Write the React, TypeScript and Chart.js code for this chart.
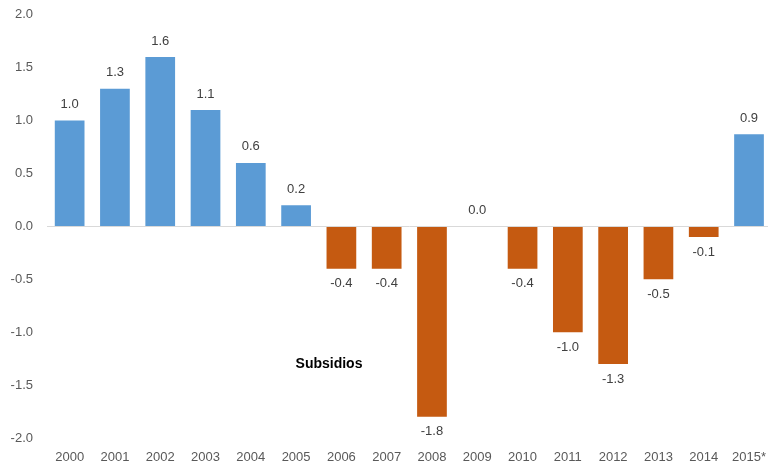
import React, { useEffect, useRef } from "react";
import { Chart, registerables } from "chart.js";

Chart.register(...registerables);

const categories = ["2000","2001","2002","2003","2004","2005","2006","2007","2008","2009","2010","2011","2012","2013","2014","2015*"];
const values = [1.0, 1.3, 1.6, 1.1, 0.6, 0.2, -0.4, -0.4, -1.8, 0.0, -0.4, -1.0, -1.3, -0.5, -0.1, 0.87];
const yTicks = [-2.0, -1.5, -1.0, -0.5, 0.0, 0.5, 1.0, 1.5, 2.0];
const annotationText = "Subsidios";

const BLUE = "#5B9BD5";
const ORANGE = "#C55A11";
const FONT = "'Liberation Sans', Arial, sans-serif";

const labelPlugin = {
  id: "valueLabels",
  afterDatasetsDraw(chart: any) {
    const ctx = chart.ctx;
    const meta = chart.getDatasetMeta(0);
    ctx.save();
    ctx.font = `13px ${FONT}`;
    ctx.fillStyle = "#404040";
    ctx.textAlign = "center";
    ctx.textBaseline = "middle";
    meta.data.forEach((bar: any, i: number) => {
      const v = values[i];
      const txt = v.toFixed(1);
      const y = v >= 0 ? bar.y - 16 : bar.y + 15;
      ctx.fillText(txt, bar.x, y);
    });
    const ca = chart.chartArea;
    ctx.font = `bold 14px ${FONT}`;
    ctx.fillStyle = "#000000";
    const yS = chart.scales.y;
    ctx.fillText(annotationText, ca.left + 282, yS.getPixelForValue(-1.3));
    ctx.restore();
  },
};

export default function App() {
  const ref = useRef<HTMLCanvasElement>(null);
  useEffect(() => {
    if (!ref.current) return;
    const chart = new Chart(ref.current, {
      type: "bar",
      data: {
        labels: categories,
        datasets: [
          {
            data: values,
            backgroundColor: values.map((v) => (v >= 0 ? BLUE : ORANGE)),
            barPercentage: 0.82,
            categoryPercentage: 0.8,
          },
        ],
      },
      options: {
        animation: false,
        responsive: false,
        layout: { padding: { top: 6, left: 0, right: 0, bottom: 0 } },
        plugins: { legend: { display: false }, tooltip: { enabled: false } },
        scales: {
          x: {
            grid: { display: false, drawTicks: false },
            border: { display: false },
            ticks: { color: "#595959", font: { family: FONT, size: 13 }, padding: 12, maxRotation: 0, autoSkip: false },
            afterFit: (s: any) => { s.height = 31; },
          },
          y: {
            min: -2,
            max: 2,
            afterBuildTicks: (s: any) => { s.ticks = yTicks.map((v) => ({ value: v })); },
            grid: {
              drawTicks: false,
              color: (c: any) => (c.tick && c.tick.value === 0 ? "#D9D9D9" : "rgba(0,0,0,0)"),
              lineWidth: 1,
            },
            border: { display: false },
            ticks: {
              color: "#595959",
              font: { family: FONT, size: 13 },
              padding: 14,
              callback: (v: any) => Number(v).toFixed(1),
            },
            afterFit: (s: any) => { s.width = 47; },
          },
        },
      },
      plugins: [labelPlugin],
    });
    return () => chart.destroy();
  }, []);
  return (
    <div style={{ position: "fixed", left: 0, top: 0, width: 768, height: 469, overflow: "hidden", background: "#fff" }}>
      <canvas ref={ref} width={778} height={476} style={{ display: "block", position: "absolute", left: 0, top: -7, width: 778, height: 476 }} />
    </div>
  );
}
